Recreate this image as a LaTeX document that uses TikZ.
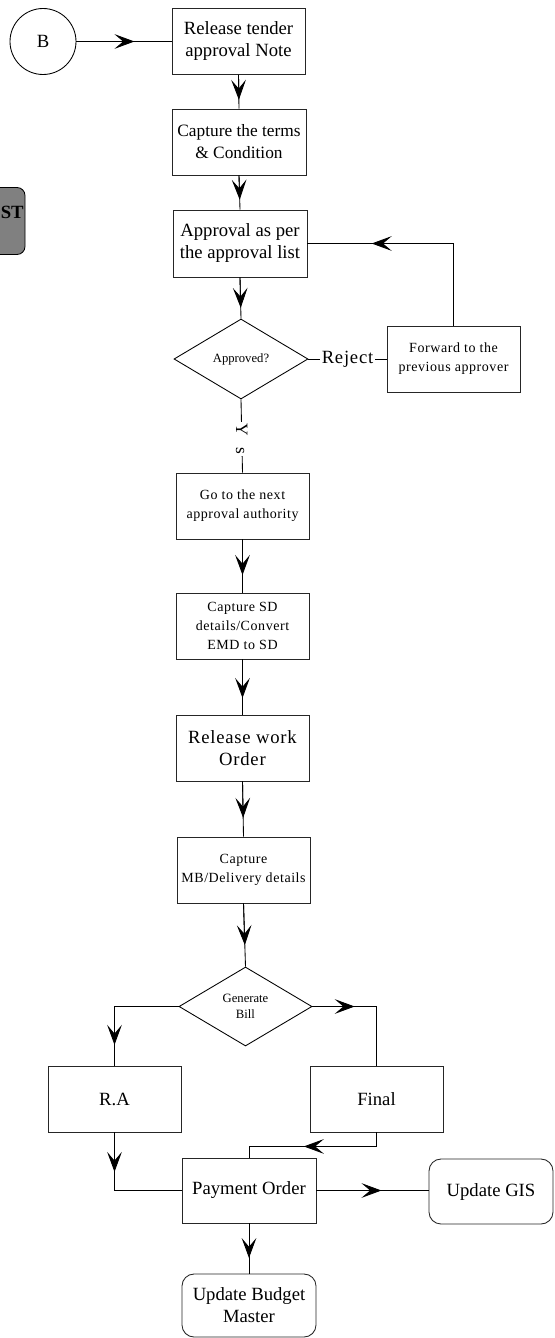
\documentclass[tikz,border=0pt]{standalone}
\usepackage{fontspec}
\setmainfont{Liberation Serif}
\newfontfamily\spacedfont[LetterSpace=4]{Liberation Serif}
\usetikzlibrary{shapes.geometric,arrows.meta,calc}
\definecolor{stgray}{RGB}{128,128,128}
\tikzset{
  box/.style={draw=black!85, line width=0.65pt, rectangle, inner sep=0pt, align=center,
    minimum width=99.75pt, minimum height=49.5pt, font=\fontsize{14}{16.5}\selectfont},
  smallbox/.style={box, font=\spacedfont\fontsize{10.5}{14.25}\selectfont},
  rbox/.style={box, rounded corners=9pt},
  decision/.style={draw=black, line width=0.65pt, diamond, inner sep=0pt, align=center,
    minimum width=100.5pt, minimum height=60pt, font=\fontsize{9.5}{12}\selectfont},
  conn/.style={line width=0.65pt, black},
  tip/.style={conn, -{Stealth[length=15pt, width=11pt, inset=6.5pt]}},
  lbl/.style={fill=white, inner sep=1pt, font=\fontsize{14}{16.5}\selectfont},
  stbox/.style={draw=black, line width=0.65pt, fill=stgray, rounded corners=6pt,
    minimum width=52.5pt, minimum height=50.25pt, inner sep=0pt},
}
\begin{document}
\begin{tikzpicture}[x=0.75pt,y=-0.75pt]
\useasboundingbox (0,0) rectangle (554,1338);
% nodes
\node[circle, draw=black, line width=0.65pt, minimum size=49.5pt, inner sep=0pt,
  font=\fontsize{14}{16.5}\selectfont] (B) at (43,41.5) {B};
\node[box] (n1) at (238.5,41.5) {Release tender\\approval Note};
\node[box, minimum width=100.5pt, font=\fontsize{13}{16.5}\selectfont] (n2) at (239,142) {Capture the terms\\\& Condition};
\node[box, minimum width=100.5pt, minimum height=50.25pt] (n3) at (240,243.5) {Approval as per\\the approval list};
\node[decision] (d1) at (241,359) {Approved?};
\node[smallbox] (fwd) at (453.5,359) {Forward to the\\previous approver};
\node[smallbox] (go) at (242.5,506) {Go to the next\\approval authority};
\node[smallbox] (sd) at (242.5,626) {Capture SD\\details/Convert\\EMD to SD};
\node[box, font=\spacedfont\fontsize{14}{16}\selectfont] (rw) at (242.5,748) {Release work\\Order};
\node[smallbox] (mb) at (243.5,870) {Capture\\MB/Delivery details};
\node[decision, minimum width=99.75pt, minimum height=59.25pt] (d2) at (245.5,1006.5) {Generate\\Bill};
\node[box] (ra) at (114.5,1099) {R.A};
\node[box] (fin) at (376.5,1099) {Final};
\node[box, minimum width=100.5pt, minimum height=48.75pt] (pay) at (249,1190.5) {Payment Order};
\node[rbox, minimum width=93pt, minimum height=48.75pt] (gis) at (491,1191.5) {Update GIS};
\node[rbox, minimum width=100.5pt, minimum height=47.25pt] (bud) at (249,1305.5) {Update Budget\\Master};
\node[stbox] (st) at (-10,221) {};
\node[font=\bfseries\fontsize{14}{16.5}\selectfont, anchor=west, inner sep=0pt] (stl) at (0.5,212) {ST};
% connectors
\coordinate (b1) at (B.east |- n1.west);
\draw[conn] (b1) -- (n1.west);
\draw[tip] (b1) -- ($(b1)!0.61!(n1.west)$);
\draw[conn] (n1.south) -- (n2.north);
\draw[tip] (n1.south) -- ($(n1.south)!0.74!(n2.north)$);
\draw[conn] (n2.south) -- (n3.north);
\draw[tip] (n2.south) -- ($(n2.south)!0.71!(n3.north)$);
\draw[conn] (n3.south) -- (d1.north);
\draw[tip] (n3.south) -- ($(n3.south)!0.74!(d1.north)$);
\draw[conn] (d1.east) -- node[lbl, font=\spacedfont\fontsize{14}{16.5}\selectfont]{Reject} (fwd.west);
\coordinate (c1) at (fwd.north |- n3.east);
\draw[conn] (fwd.north) -- (c1) -- (n3.east);
\draw[tip] (c1) -- ($(c1)!0.56!(n3.east)$);
\draw[conn] (d1.south) -- node[pos=0.54, fill=white, inner sep=1.5pt, rotate=-90,
  font=\fontsize{13}{15}\selectfont]{Y\hspace{8pt}s} (go.north);
\draw[conn] (go.south) -- (sd.north);
\draw[tip] (go.south) -- ($(go.south)!0.67!(sd.north)$);
\draw[conn] (sd.south) -- (rw.north);
\draw[tip] (sd.south) -- ($(sd.south)!0.70!(rw.north)$);
\draw[conn] (rw.south) -- (mb.north);
\draw[tip] (rw.south) -- ($(rw.south)!0.66!(mb.north)$);
\draw[conn] (mb.south) -- (d2.north);
\draw[tip] (mb.south) -- ($(mb.south)!0.66!(d2.north)$);
\coordinate (c2) at (ra.north |- d2.west);
\draw[conn] (d2.west) -- (c2) -- (ra.north);
\draw[tip] (c2) -- ($(c2)!0.65!(ra.north)$);
\coordinate (c3) at (fin.north |- d2.east);
\draw[conn] (d2.east) -- (c3) -- (fin.north);
\draw[tip] (d2.east) -- ($(d2.east)!0.66!(c3)$);
\coordinate (c4) at (ra.south |- pay.west);
\draw[conn] (ra.south) -- (c4) -- (pay.west);
\draw[tip] (ra.south) -- ($(ra.south)!0.68!(c4)$);
\coordinate (c5) at ($(fin.south)+(0,14)$);
\coordinate (c6) at (pay.north |- c5);
\draw[conn] (fin.south) -- (c5) -- (c6) -- (pay.north);
\draw[tip] (c5) -- ($(c5)!0.57!(c6)$);
\coordinate (c7) at (pay.east -| gis.west);
\draw[conn] (pay.east) -- (c7);
\draw[tip] (pay.east) -- ($(pay.east)!0.58!(c7)$);
\draw[conn] (pay.south) -- (bud.north);
\draw[tip] (pay.south) -- ($(pay.south)!0.69!(bud.north)$);
\end{tikzpicture}
\end{document}
